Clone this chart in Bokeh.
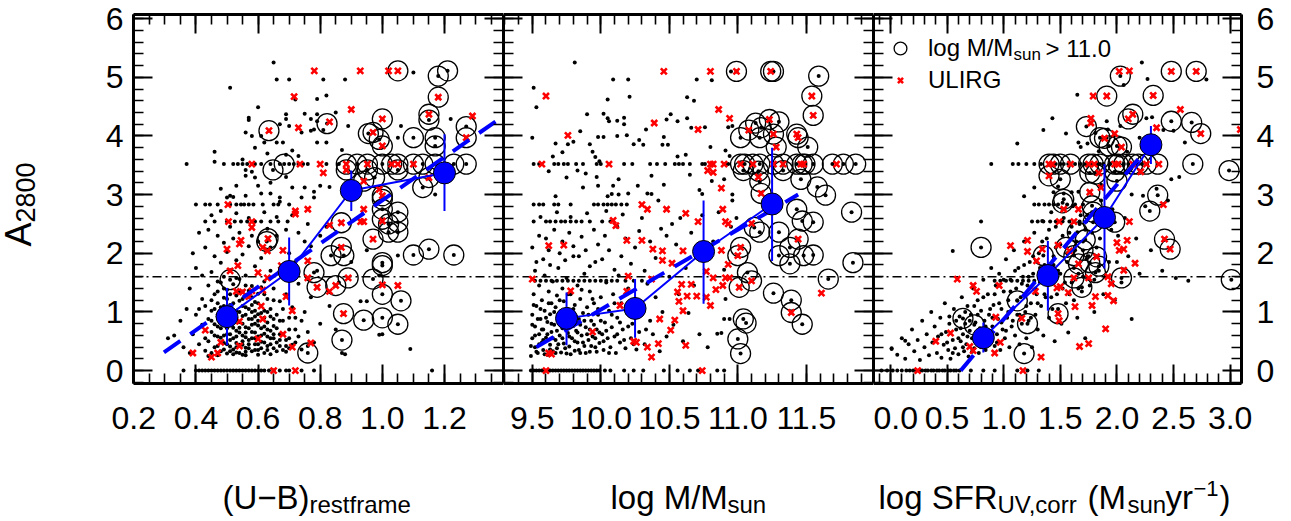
import math
from bokeh.plotting import figure
from bokeh.layouts import row, column
from bokeh.models import (Range1d, LinearAxis, SingleIntervalTicker, Span, Label,
                          Legend, LegendItem, CustomJSTickFormatter, PrintfTickFormatter)
from bokeh.embed import file_html
from bokeh.resources import INLINE

FONT = "Liberation Sans"

# ---------------- data: panel 1  (U-B)restframe vs A2800 ----------------
p1_dots = [
 [0.36,0],[0.40,0],[0.41,0],[0.42,0],[0.43,0],[0.44,0],[0.45,0],[0.46,0],[0.47,0],[0.48,0],
 [0.49,0],[0.50,0],[0.51,0],[0.52,0],[0.53,0],[0.54,0],[0.55,0],[0.56,0],[0.57,0],[0.58,0],
 [0.59,0],[0.60,0],[0.61,0],[0.62,0],[0.635,0],[0.65,0],[0.67,0],[0.69,0],[0.70,0],[0.74,0],[0.78,0],[1.16,0],
 [0.37,3.52],[0.49,3.52],[0.52,3.52],[0.535,3.52],[0.55,3.52],[0.565,3.52],[0.59,3.52],[0.61,3.52],[0.64,3.52],
 [0.67,3.52],[0.70,3.52],[0.715,3.52],[0.73,3.52],[0.745,3.52],[0.76,3.52],[0.82,3.52],[0.86,3.52],
 [0.40,2.83],[0.43,2.83],[0.445,2.83],[0.47,2.83],[0.51,2.83],[0.53,2.83],[0.545,2.83],[0.555,2.83],[0.57,2.83],
 [0.585,2.83],[0.615,2.83],[0.65,2.83],[0.665,2.83],[0.70,2.83],
 [0.43,2.54],[0.46,2.54],[0.50,2.54],[0.525,2.54],[0.545,2.54],[0.565,2.54],[0.59,2.54],[0.61,2.54],[0.64,2.54],
 [0.665,2.54],[0.695,2.54],
 [0.65,5.25],[0.51,4.82],[0.66,4.96],[0.70,4.96],[0.81,4.96],[0.88,4.96],[1.10,5.08],[0.72,4.62],[0.79,4.63],
 [0.82,4.69],[0.60,4.49],[0.57,4.31],[0.57,4.27],[0.69,4.37],[0.69,4.29],[0.75,4.38],[0.77,4.29],[0.79,4.37],
 [0.79,4.25],[0.89,4.17],[1.06,4.17],[1.22,4.29],[0.56,4.06],[0.58,4.00],[0.61,4.00],[0.62,3.89],[0.70,4.17],
 [0.74,4.06],[0.77,4.09],[0.78,4.11],[0.81,4.10],[0.79,3.89],[0.82,3.89],[0.66,3.89],[0.68,3.89],[0.71,3.75],
 [0.69,3.68],[0.73,3.66],[0.46,3.73],[0.46,3.56],[0.56,3.42],[0.58,3.39],[0.56,3.32],[0.59,3.29],[0.53,3.15],
 [0.60,3.15],[0.64,3.20],[0.69,3.30],[0.71,3.12],[0.75,3.12],[0.80,3.15],[0.83,3.13],[0.87,3.76],[1.05,3.97],
 [1.17,3.00],[0.51,2.98],[0.52,2.96],[0.61,3.02],[0.64,3.02],[0.67,2.95],[0.78,2.95],[0.48,3.10],[0.55,3.60],
 [0.63,3.70],[0.59,3.80],[0.67,4.20],[0.85,4.40],
 [0.39,0.62],[0.40,0.95],[0.41,1.05],[0.41,0.45],[0.42,0.78],[0.42,1.22],[0.43,0.34],[0.43,0.55],[0.43,1.10],
 [0.44,0.88],[0.44,1.45],[0.44,0.25],[0.45,0.66],[0.45,1.02],[0.45,1.68],[0.46,0.40],[0.46,0.79],[0.46,1.30],
 [0.46,1.95],[0.47,0.58],[0.47,0.92],[0.47,1.15],[0.47,1.52],[0.48,0.33],[0.48,0.72],[0.48,1.08],[0.48,1.84],
 [0.49,0.47],[0.49,0.86],[0.49,1.24],[0.49,1.60],[0.50,0.29],[0.50,0.62],[0.50,1.38],[0.50,2.02],[0.51,0.41],
 [0.51,0.78],[0.51,1.12],[0.51,1.71],[0.52,0.36],[0.52,0.55],[0.52,0.97],[0.52,1.47],[0.52,2.25],[0.53,0.31],
 [0.53,0.68],[0.53,1.02],[0.53,1.28],[0.53,1.88],[0.54,0.44],[0.54,0.83],[0.54,1.19],[0.54,1.56],[0.55,0.27],
 [0.55,0.60],[0.55,0.93],[0.55,1.35],[0.55,1.98],[0.56,0.39],[0.56,0.74],[0.56,1.08],[0.56,1.62],[0.57,0.52],
 [0.57,0.88],[0.57,1.26],[0.57,2.12],[0.58,0.33],[0.58,0.66],[0.58,1.00],[0.58,1.44],[0.59,0.45],[0.59,0.80],
 [0.59,1.17],[0.59,1.78],[0.60,0.35],[0.60,0.58],[0.60,0.96],[0.60,1.31],[0.61,0.49],[0.61,0.72],[0.61,1.10],
 [0.61,1.92],[0.62,0.30],[0.62,0.63],[0.62,0.90],[0.62,1.52],[0.63,0.42],[0.63,0.82],[0.63,1.22],[0.64,0.55],
 [0.64,1.05],[0.64,1.70],[0.65,0.38],[0.65,0.76],[0.65,1.40],[0.66,0.48],[0.66,0.95],[0.66,2.30],[0.67,0.62],
 [0.67,1.18],[0.68,0.35],[0.68,0.85],[0.68,1.60],[0.69,0.52],[0.69,1.30],[0.70,0.70],[0.70,2.00],[0.71,0.44],
 [0.71,1.08],[0.72,0.90],[0.72,1.85],[0.73,0.58],[0.73,1.48],[0.74,0.36],[0.75,1.00],[0.75,2.20],[0.76,0.66],
 [0.77,1.25],[0.78,0.48],[0.79,1.70],[0.80,0.80],[0.82,2.45],[0.83,1.10],[0.85,0.70],[0.86,1.50],[0.88,0.28],
 [0.90,1.85],[0.93,1.18],[0.95,2.05],[1.00,0.62],[1.05,1.96],[1.09,0.37],[0.99,1.62],[0.33,0.60],[0.31,0.55],
 [0.35,0.85],[0.36,0.40],[0.37,1.05],[0.38,0.30],[0.38,1.40],[0.39,2.00],[0.40,1.75],[0.41,2.35],[0.42,1.62],
 [0.43,2.10],[0.44,2.40],[0.45,2.65],[0.47,2.30],[0.48,2.72],[0.49,2.18],[0.50,2.95],[0.51,2.45],[0.53,2.68],
 [0.54,2.35],[0.56,2.98],[0.57,2.60],[0.58,2.30],[0.60,2.20],[0.62,2.70],[0.63,2.42],[0.64,2.10],[0.66,2.62],
 [0.67,2.88],[0.69,2.40],[0.71,2.65],[0.73,2.35],[0.74,2.95],[0.76,2.50],[0.77,2.12],[0.78,3.05],[0.80,2.30],
 [0.47,0.42],[0.49,0.36],[0.51,0.52],[0.53,0.47],[0.55,0.44],[0.57,0.38],[0.59,0.55],[0.48,0.56],[0.50,0.84],
 [0.52,0.73],[0.54,0.65],[0.56,0.57],[0.58,0.88],[0.60,0.77],[0.46,1.05],[0.50,1.05],[0.54,1.00],[0.58,1.12],
 [0.62,1.02],[0.49,1.40],[0.53,1.58],[0.57,1.36],[0.61,1.42],[0.51,0.93],[0.55,1.22],[0.59,1.02],[0.63,0.70],
 [0.65,0.55],[0.67,0.42],[0.69,0.32],[0.45,0.30],[0.47,0.26],[0.52,0.28],[0.56,0.26],[0.60,0.27],[0.64,0.28],
 [0.66,0.33],[0.70,0.38],[0.95,1.18],[0.87,0.30],[0.99,0.61],
 [0.44,0.50],[0.45,0.85],[0.45,1.20],[0.46,0.60],[0.47,0.75],[0.47,1.35],[0.48,0.95],[0.48,1.50],[0.49,0.60],
 [0.49,1.10],[0.50,0.45],[0.50,0.72],[0.50,1.22],[0.51,0.33],[0.51,0.62],[0.51,1.30],[0.52,0.85],[0.52,1.15],
 [0.53,0.40],[0.53,0.58],[0.53,0.90],[0.54,0.30],[0.54,0.73],[0.54,1.35],[0.55,0.50],[0.55,0.80],[0.55,1.10],
 [0.56,0.32],[0.56,0.65],[0.56,0.95],[0.56,1.45],[0.57,0.45],[0.57,0.72],[0.57,1.05],[0.58,0.55],[0.58,0.78],
 [0.58,1.25],[0.59,0.35],[0.59,0.65],[0.59,0.92],[0.60,0.45],[0.60,0.85],[0.60,1.15],[0.61,0.38],[0.61,0.60],
 [0.61,0.98],[0.62,0.48],[0.62,0.75],[0.62,1.30],[0.63,0.35],[0.63,0.58],[0.63,1.00],[0.64,0.45],[0.64,0.68],
 [0.64,0.92],[0.65,0.62],[0.65,0.88],[0.65,1.20],[0.66,0.72],[0.67,0.52],[0.67,0.85],[0.68,0.62],[0.68,1.05],
 [0.69,0.42],[0.70,0.55],[0.70,0.90],[0.72,0.48],[0.72,0.70],[0.74,0.85],[0.76,0.42],
]
p1_circles = [
 [0.635,4.09],[0.684,3.52],[0.648,3.42],[0.822,4.21],[0.884,3.52],[0.884,3.42],[0.919,3.52],[0.952,3.52],
 [0.952,3.42],[0.955,4.04],[0.97,4.06],[0.99,3.94],[1.0,3.83],[1.0,4.29],[0.975,3.29],[0.94,3.23],[1.0,3.52],
 [1.03,3.52],[1.05,3.52],[1.05,3.42],[1.05,5.11],[1.10,3.97],[1.10,3.52],[1.13,3.52],[1.13,3.12],[1.15,3.29],
 [1.15,4.27],[1.15,4.37],[1.17,3.97],[1.17,3.83],[1.17,3.52],[1.18,5.02],[1.18,4.66],[1.21,5.11],[1.23,3.52],
 [1.27,3.52],[1.27,4.16],[1.27,3.97],[1.0,2.98],[0.632,2.25],[0.628,2.20],[0.868,2.52],[1.0,2.92],[1.0,2.75],
 [1.0,2.58],[1.02,2.50],[1.02,2.36],[1.05,2.70],[1.05,2.53],[1.05,2.36],[0.97,2.24],[0.868,2.10],[0.835,1.96],
 [0.876,1.96],[1.0,1.84],[1.0,1.79],[1.10,1.97],[1.15,2.07],[1.23,1.97],[0.78,1.67],[0.79,1.42],[0.85,1.45],
 [0.89,1.58],[0.97,1.56],[1.0,1.30],[1.06,1.19],[0.875,0.97],[0.94,0.86],[1.0,0.90],[1.05,0.79],[0.87,0.52],
 [0.76,0.30],[0.51,1.55],
]
p1_ulirg = [
 [0.635,4.09],[0.83,4.24],[0.884,3.52],[0.884,3.42],[0.952,3.52],[0.97,4.06],[1.0,3.83],[1.0,4.29],[0.94,3.23],
 [1.03,3.52],[1.05,3.52],[1.05,5.11],[1.10,3.52],[1.15,3.29],[1.15,4.37],[1.18,4.66],[1.27,3.97],[1.0,2.98],
 [0.632,2.25],[0.868,2.52],[1.0,2.55],[0.97,2.24],[0.868,2.10],[0.79,1.42],[0.85,1.45],[0.89,1.58],[0.875,0.97],
 [0.781,5.11],[0.929,5.11],[1.02,5.11],[0.716,4.67],[0.90,4.45],[0.73,4.14],[0.58,3.52],[0.735,3.52],[0.80,3.52],
 [0.81,3.37],[1.29,4.34],[0.99,3.09],[0.503,2.83],[0.505,2.54],[0.58,2.54],[0.58,2.44],[0.545,2.22],[0.54,2.16],
 [0.50,2.07],[0.615,2.10],[0.63,2.04],[0.72,2.72],[0.72,2.67],[0.76,2.75],[0.68,2.05],[0.76,1.87],[0.675,1.79],
 [0.76,1.58],[0.51,1.70],[0.535,1.79],[0.60,1.67],[0.63,1.58],[0.53,1.35],[0.55,1.34],[0.57,1.26],[0.58,1.36],
 [0.615,1.37],[0.61,1.10],[0.69,1.26],[0.71,1.02],[0.615,0.88],[0.54,0.84],[0.43,0.69],[0.60,0.54],[0.68,0.62],
 [0.77,0.47],[0.71,0.40],[0.54,0.42],[0.48,0.48],[0.47,0.30],[0.45,0.23],[0.39,0.30],[0.65,0.0],[0.72,0.0],
 [0.94,2.75],[0.93,2.54],[0.94,2.54],[1.0,1.46],[1.05,1.45],[0.83,1.35],[0.83,2.48],
]
p1_bin_x = [0.5, 0.7, 0.9, 1.2]
p1_bin_med = [0.92, 1.69, 3.07, 3.37]
p1_bin_lo = [0.43, 1.11, 2.72, 2.72]
p1_bin_hi = [1.41, 2.27, 3.41, 4.03]
p1_fit_x = [0.297, 1.39]
p1_fit_y = [0.31, 4.34]

# ---------------- data: panel 2  log M/Msun vs A2800 ----------------
p2_dots = [
 [9.49,0],[9.51,0],[9.53,0],[9.55,0],[9.57,0],[9.59,0],[9.61,0],[9.63,0],[9.65,0],[9.67,0],[9.69,0],[9.71,0],
 [9.73,0],[9.75,0],[9.77,0],[9.79,0],[9.81,0],[9.83,0],[9.85,0],[9.87,0],[9.89,0],[9.91,0],[9.93,0],[9.95,0],
 [9.97,0],[9.99,0],[10.03,0],[10.07,0],[10.17,0],[10.24,0],[10.31,0],[10.46,0],[10.56,0],[10.65,0],[10.71,0],
 [10.85,0],[10.90,0],
 [9.51,3.52],[9.55,3.52],[9.66,3.52],[9.69,3.52],[9.73,3.52],[9.76,3.52],[9.82,3.52],[9.87,3.52],[9.97,3.52],
 [10.0,3.52],[10.17,3.52],[10.23,3.52],[10.36,3.52],[10.41,3.52],[10.47,3.52],[10.54,3.52],[10.57,3.52],
 [10.60,3.52],[10.65,3.52],[10.74,3.52],[10.76,3.52],[10.81,3.52],[10.91,3.52],[10.93,3.52],
 [9.51,2.83],[9.55,2.83],[9.58,2.83],[9.66,2.83],[9.69,2.83],[9.78,2.83],[9.95,2.83],[9.98,2.83],[10.02,2.83],
 [10.05,2.83],[10.08,2.83],[10.11,2.83],[10.15,2.83],[10.19,2.83],
 [9.51,2.54],[9.60,2.54],[9.63,2.54],[9.67,2.54],[9.71,2.54],[9.74,2.54],[9.78,2.54],[9.82,2.54],[9.86,2.54],
 [9.92,2.54],[10.01,2.54],[10.07,2.54],
 [9.52,1.53],[9.56,1.53],[9.60,1.53],[9.64,1.53],[9.68,1.53],[9.72,1.53],[9.76,1.53],[9.80,1.53],[9.84,1.53],
 [9.88,1.53],[9.92,1.53],[9.96,1.53],[10.00,1.53],[10.04,1.53],[10.08,1.53],[10.12,1.53],[10.18,1.53],
 [10.24,1.53],[10.30,1.53],
 [9.81,5.25],[9.51,4.82],[10.09,4.96],[10.20,4.96],[10.70,4.96],[10.81,4.95],[10.95,5.10],[10.21,4.67],
 [10.05,4.62],[10.63,4.66],[10.68,4.60],[9.53,4.49],[9.90,4.37],[10.02,4.38],[10.05,4.30],[10.06,4.25],
 [10.12,4.26],[10.17,4.31],[10.17,4.20],[10.33,4.11],[10.51,4.37],[10.48,4.28],[10.56,4.25],[10.63,4.30],
 [10.66,4.14],[10.76,4.15],[10.93,4.15],[10.96,4.17],[9.50,3.97],[9.67,3.87],[9.76,3.86],[9.80,3.90],
 [9.85,4.08],[9.98,3.98],[10.02,3.98],[9.92,3.86],[9.94,3.73],[9.72,3.72],[9.65,3.65],[9.96,3.64],[9.99,3.57],
 [10.12,4.00],[10.19,4.01],[10.24,3.86],[10.31,3.85],[10.28,3.93],[10.46,3.98],[10.45,3.85],[10.49,3.85],
 [10.56,3.65],[10.62,3.68],[10.80,3.81],[10.91,3.75],[10.94,3.66],
 [9.62,3.40],[9.83,3.41],[9.89,3.36],[9.97,3.30],[9.75,3.29],[10.09,3.15],[9.98,3.15],[10.13,3.26],[10.27,3.15],
 [10.37,3.32],[10.46,3.17],[10.65,3.34],[10.72,3.08],[10.74,3.01],[10.81,3.23],[10.90,3.26],[10.96,3.00],
 [9.87,3.12],[10.05,2.97],[10.08,3.01],[10.13,3.00],[10.20,3.02],[10.34,3.02],[10.37,3.01],[9.67,2.97],
 [9.49,0.25],[9.50,0.55],[9.50,0.95],[9.51,1.30],[9.52,0.40],[9.52,0.75],[9.53,1.10],[9.53,1.85],[9.54,0.30],
 [9.55,0.62],[9.55,1.45],[9.56,0.88],[9.57,0.48],[9.57,1.20],[9.58,0.35],[9.58,0.70],[9.59,1.02],[9.59,1.62],
 [9.60,0.56],[9.61,0.27],[9.61,0.83],[9.62,1.35],[9.62,2.05],[9.63,0.44],[9.63,0.96],[9.64,0.66],[9.64,1.15],
 [9.65,0.33],[9.65,1.52],[9.66,0.78],[9.67,0.52],[9.67,1.08],[9.68,0.38],[9.68,1.28],[9.69,0.90],[9.69,1.75],
 [9.70,0.60],[9.71,0.31],[9.71,1.00],[9.72,0.72],[9.72,1.40],[9.73,0.46],[9.73,1.18],[9.74,0.85],[9.75,0.29],
 [9.75,1.58],[9.76,0.64],[9.76,1.05],[9.77,0.41],[9.78,0.93],[9.78,1.30],[9.79,0.55],[9.80,0.76],[9.80,1.95],
 [9.81,0.34],[9.81,1.12],[9.82,0.68],[9.83,0.48],[9.83,1.45],[9.84,0.88],[9.85,0.30],[9.85,1.22],[9.86,0.60],
 [9.87,0.98],[9.88,0.42],[9.88,1.65],[9.89,0.74],[9.90,1.08],[9.91,0.52],[9.92,0.32],[9.92,1.35],[9.93,0.85],
 [9.94,0.58],[9.95,1.15],[9.96,0.40],[9.96,1.85],[9.97,0.70],[9.98,0.95],[9.99,0.47],[10.00,1.25],[10.01,0.62],
 [10.02,0.35],[10.03,0.82],[10.04,1.50],[10.05,0.55],[10.06,1.02],[10.07,0.40],[10.08,0.74],[10.09,1.30],
 [10.10,0.58],[10.11,0.30],[10.12,0.90],[10.13,1.62],[10.14,0.48],[10.15,1.15],[10.16,0.70],[10.18,0.38],
 [10.19,0.98],[10.20,1.40],[10.22,0.55],[10.23,0.80],[10.25,1.20],[10.26,0.36],[10.28,0.66],[10.30,1.05],
 [10.32,0.45],[10.34,1.48],[10.36,0.85],[10.38,0.62],[10.40,1.25],[10.43,0.33],[10.45,1.00],[10.48,0.58],
 [10.50,1.60],[10.53,0.78],[10.57,1.30],[10.60,0.50],[10.64,0.98],[10.68,1.45],[10.72,0.62],[10.78,0.40],
 [10.85,0.63],[10.88,0.64],[10.91,1.22],[10.90,0.88],[10.94,0.88],
 [9.50,2.10],[9.52,1.70],[9.55,2.30],[9.58,1.90],[9.60,2.25],[9.63,1.80],[9.66,2.40],[9.70,2.00],[9.72,2.20],
 [9.74,1.88],[9.77,2.35],[9.80,2.12],[9.84,1.95],[9.86,2.28],[9.89,2.05],[9.92,1.78],[9.95,2.40],[9.98,2.15],
 [10.01,1.90],[10.03,2.30],[10.06,2.05],[10.10,1.72],[10.12,2.45],[10.15,1.95],[10.18,2.25],[10.22,1.82],
 [10.25,2.10],[10.28,2.38],[10.32,1.70],[10.36,2.20],[10.40,1.92],[10.44,2.42],[10.48,2.30],[10.55,2.15],
 [10.58,2.60],[10.62,1.75],[10.66,2.35],[10.70,1.95],[10.74,2.65],[10.82,2.20],[10.86,2.70],[10.90,1.72],
 [10.95,2.45],[10.96,2.90],[10.99,2.60],[9.56,2.62],[9.68,2.70],[9.78,2.62],[9.90,2.68],[10.04,2.72],
 [10.16,2.66],[10.30,2.60],[10.42,2.90],[10.52,2.50],
 [9.49,0.42],[9.50,0.78],[9.51,1.12],[9.52,0.60],[9.53,0.32],[9.54,0.88],[9.55,0.45],[9.56,1.05],[9.57,0.70],
 [9.58,0.52],[9.59,0.28],[9.60,0.90],[9.61,0.62],[9.62,1.15],[9.63,0.36],[9.64,0.80],[9.65,0.55],[9.66,1.00],
 [9.67,0.30],[9.68,0.68],[9.69,0.45],[9.70,1.20],[9.71,0.82],[9.72,0.55],[9.73,0.95],[9.74,0.38],[9.75,0.72],
 [9.76,1.30],[9.77,0.58],[9.78,0.28],[9.79,0.85],[9.80,1.05],[9.81,0.50],[9.82,0.92],[9.83,0.65],[9.84,0.35],
 [9.85,0.78],[9.86,1.38],[9.87,0.48],[9.88,0.85],[9.89,0.30],[9.90,0.62],[9.91,0.95],[9.92,0.70],[9.93,0.42],
 [9.94,1.22],[9.95,0.78],[9.96,0.55],[9.97,0.32],[9.98,1.05],[9.99,0.65],[10.00,0.85],[10.02,0.50],[10.04,0.68],
 [10.06,0.30],[10.08,0.95],[10.10,1.15],[10.12,0.62],[10.14,0.82],[10.17,0.52],[10.20,0.75],[10.24,0.45],
 [10.27,0.92],[10.33,0.70],
]
p2_circles = [
 [10.99,5.10],[11.24,5.10],[11.26,5.10],[11.59,5.02],[11.54,4.68],[11.55,4.35],[11.13,4.22],[11.23,4.28],
 [11.30,4.24],[11.08,4.10],[11.17,4.14],[11.02,3.97],[11.16,3.97],[11.26,4.03],[11.28,3.81],[11.43,4.03],
 [11.44,3.97],[11.51,3.81],[11.02,3.52],[11.05,3.52],[11.11,3.52],[11.16,3.52],[11.26,3.52],[11.33,3.52],
 [11.43,3.52],[11.47,3.52],[11.49,3.52],[11.55,3.52],[11.69,3.52],[11.77,3.52],[11.86,3.52],[11.04,3.41],
 [11.15,3.40],[11.33,3.41],[11.46,3.26],[11.58,3.13],[11.64,2.99],[11.17,3.02],[11.16,3.22],[11.43,2.75],
 [11.47,2.55],[11.55,2.53],[11.83,2.70],[11.16,2.36],[11.12,2.44],[11.30,2.36],[11.38,2.10],[11.30,1.96],
 [11.38,1.82],[11.48,1.96],[11.55,1.97],[11.44,2.24],[11.02,2.10],[11.0,1.96],[11.84,1.84],[11.07,1.67],
 [11.10,1.53],[11.01,1.42],[11.66,1.56],[11.26,1.32],[11.39,1.20],[11.39,0.99],[11.47,0.79],[11.04,0.88],
 [11.06,0.81],[11.0,0.54],[11.02,0.29],
]
p2_ulirg = [
 [10.99,5.10],[11.24,5.10],[11.54,4.68],[11.55,4.35],[11.23,4.28],[11.08,4.10],[11.26,4.03],[11.28,3.81],
 [11.43,4.03],[11.44,3.97],[11.02,3.52],[11.11,3.52],[11.26,3.52],[11.33,3.52],[11.46,3.52],[11.48,3.52],
 [11.72,3.52],[11.15,3.30],[11.17,3.02],[11.10,2.51],[11.44,2.24],[11.02,2.10],[11.0,1.96],[11.10,1.53],
 [11.01,1.42],[11.39,0.99],[11.61,1.32],
 [10.46,5.10],[10.80,5.10],[9.60,4.68],[10.86,4.45],[10.94,4.30],[10.39,4.22],[10.71,4.11],[9.76,4.01],
 [9.57,3.52],[10.06,3.52],[10.80,3.52],[10.82,3.52],[10.90,3.52],[10.78,3.41],[10.82,3.38],[10.88,3.11],
 [10.30,2.83],[10.34,2.75],[10.48,2.75],[10.62,2.68],[10.71,2.54],[10.89,2.75],[10.91,2.54],[10.93,2.50],
 [10.09,2.56],[10.11,2.47],[10.19,2.22],[10.30,2.22],[10.38,2.07],[10.45,2.04],[10.45,1.88],[10.60,2.04],
 [10.52,1.83],[10.88,2.05],[10.93,1.81],[10.77,1.69],[10.82,1.58],[10.91,1.58],[10.94,1.58],[10.89,1.45],
 [10.84,1.38],[10.66,1.47],[10.59,1.47],[10.70,1.27],[10.77,1.25],[10.63,1.27],[10.56,1.34],[10.57,1.18],
 [10.80,1.11],[10.60,1.02],[10.54,0.86],[10.43,0.88],[10.51,0.69],[10.24,0.50],[10.26,0.48],[10.34,0.40],
 [10.42,0.46],[10.37,0.23],[10.62,0.43],[10.20,1.61],[10.37,1.56],[10.19,1.35],[10.14,1.11],[9.94,0.66],
 [9.78,1.36],[9.62,2.13],[9.73,2.14],[9.50,1.56],[9.60,0.0],[10.74,0.0],[9.62,0.30],[9.64,0.28],
]
p2_bin_x = [9.75, 10.25, 10.75, 11.25]
p2_bin_med = [0.89, 1.06, 2.03, 2.84]
p2_bin_lo = [0.43, 0.56, 1.14, 1.87]
p2_bin_hi = [1.33, 1.56, 2.90, 3.80]
p2_fit_x = [9.53, 11.44]
p2_fit_y = [0.40, 3.00]

# ---------------- data: panel 3  log SFR_UV,corr vs A2800 ----------------
p3_dots = [
 [-0.08,0],[-0.03,0],[0.02,0],[0.06,0],[0.10,0],[0.14,0],[0.17,0],[0.20,0],[0.23,0],[0.26,0],[0.28,0],[0.31,0],
 [0.33,0],[0.36,0],[0.38,0],[0.41,0],[0.43,0],[0.46,0],[0.48,0],[0.51,0],[0.53,0],[0.56,0],[0.58,0],[0.61,0],
 [0.71,0],[0.82,0],[0.92,0],[1.12,0],[1.21,0],[1.31,0],
 [0.89,3.52],[1.08,3.52],[1.13,3.52],[1.20,3.52],[1.27,3.52],[1.33,3.52],[1.46,3.52],[1.53,3.52],[1.57,3.52],
 [1.63,3.52],[1.68,3.52],[1.72,3.52],[1.82,3.52],[1.88,3.52],[1.94,3.52],[2.10,3.52],[2.22,3.52],
 [1.27,2.83],[1.31,2.83],[1.36,2.83],[1.40,2.83],[1.44,2.83],[1.48,2.83],[1.56,2.83],[1.63,2.83],[1.70,2.83],
 [1.25,2.54],[1.30,2.54],[1.35,2.54],[1.41,2.54],[1.46,2.54],[1.52,2.54],[1.58,2.54],[1.67,2.54],[1.73,2.54],
 [0.92,1.53],[0.97,1.53],[1.02,1.53],[1.07,1.53],[1.12,1.53],[1.17,1.53],[1.22,1.53],[1.27,1.53],[1.32,1.53],
 [2.22,5.25],[2.27,4.97],[2.06,4.87],[2.79,4.96],[1.65,4.70],[1.43,4.30],[1.35,4.10],[1.55,4.04],[1.12,3.87],
 [1.66,3.89],[1.74,3.87],[1.68,3.81],[1.91,4.25],[1.92,4.11],[2.03,4.17],[2.26,4.30],[2.31,4.32],[2.41,4.10],
 [2.50,4.09],[2.60,3.89],[1.84,3.74],[1.81,4.05],[2.22,3.82],[2.48,3.26],[2.23,2.98],[1.86,3.17],[1.60,3.04],
 [1.66,3.05],[1.53,3.02],[1.44,3.04],[1.48,3.14],[1.27,3.12],[1.18,2.97],[1.91,3.97],[2.09,3.73],[2.20,3.97],
 [0.55,2.04],[0.80,2.54],[0.13,0.51],[0.01,0.37],[2.13,0.88],[2.63,1.53],[2.52,1.58],
 [0.01,0.38],[0.06,0.27],[0.10,0.55],[0.13,0.20],[0.16,0.45],[0.19,0.70],[0.21,0.33],[0.24,0.52],[0.26,0.18],
 [0.28,0.85],[0.30,0.40],[0.32,0.62],[0.34,0.26],[0.36,1.00],[0.37,0.48],[0.39,0.75],[0.41,0.30],[0.42,0.58],
 [0.44,0.90],[0.45,0.22],[0.47,0.44],[0.48,1.15],[0.49,0.66],[0.51,0.35],[0.52,0.80],[0.53,0.20],[0.55,0.52],
 [0.56,1.05],[0.57,0.38],[0.58,0.70],[0.60,0.28],[0.61,0.92],[0.62,0.50],[0.63,1.25],[0.64,0.62],[0.65,0.33],
 [0.66,0.80],[0.67,0.45],[0.68,1.10],[0.69,0.24],[0.70,0.68],[0.71,0.95],[0.72,0.55],[0.73,1.40],[0.74,0.38],
 [0.75,0.82],[0.76,0.60],[0.77,1.20],[0.78,0.30],[0.79,0.72],[0.80,1.02],[0.81,0.48],[0.82,1.55],[0.83,0.85],
 [0.84,0.35],[0.85,0.65],[0.86,1.30],[0.87,0.95],[0.88,0.50],[0.89,1.75],[0.90,0.75],[0.91,1.12],[0.92,0.42],
 [0.93,1.45],[0.94,0.62],[0.95,0.88],[0.96,1.65],[0.97,0.35],[0.98,1.05],[0.99,0.70],[1.00,1.35],[1.01,0.55],
 [1.02,1.90],[1.03,0.90],[1.04,1.20],[1.05,0.40],[1.06,1.55],[1.07,0.75],[1.08,1.05],[1.09,2.05],[1.10,0.60],
 [1.11,1.40],[1.12,0.95],[1.13,1.75],[1.14,0.45],[1.15,1.25],[1.16,0.80],[1.17,1.60],[1.18,2.20],[1.19,1.00],
 [1.20,0.55],[1.21,1.45],[1.22,0.85],[1.23,1.85],[1.24,1.15],[1.25,0.40],[1.26,1.65],[1.27,2.35],[1.28,0.95],
 [1.29,1.30],[1.30,0.70],[1.31,2.00],[1.32,1.50],[1.33,1.10],[1.34,2.55],[1.35,0.60],[1.36,1.80],[1.37,1.25],
 [1.38,2.25],[1.40,0.90],[1.41,1.55],[1.42,2.70],[1.43,1.05],[1.44,1.95],[1.45,0.50],[1.46,2.45],[1.47,1.30],
 [1.48,1.70],[1.50,2.15],[1.51,0.80],[1.52,1.40],[1.53,2.60],[1.55,1.15],[1.56,1.85],[1.57,0.65],[1.58,2.35],
 [1.60,1.50],[1.61,2.80],[1.62,1.20],[1.63,2.05],[1.65,0.90],[1.66,1.65],[1.67,2.50],[1.69,1.35],[1.70,2.20],
 [1.72,0.55],[1.73,1.90],[1.74,2.65],[1.76,1.45],[1.78,2.35],[1.80,1.00],[1.82,2.10],[1.84,1.70],[1.86,2.90],
 [1.88,1.30],[1.90,2.45],[1.93,1.85],[1.96,2.75],[1.98,1.20],[2.01,2.30],[2.04,1.50],[2.07,2.60],[2.10,1.95],
 [2.13,3.00],[2.17,2.25],[2.20,1.65],[2.25,2.80],[2.30,2.05],[2.35,3.10],[2.40,1.70],[2.45,2.90],[2.55,3.30],
 [0.45,0.62],[0.50,0.48],[0.52,0.92],[0.55,0.30],[0.58,0.85],[0.60,0.55],[0.62,0.72],[0.64,0.40],[0.66,1.00],
 [0.68,0.58],[0.70,0.85],[0.72,0.32],[0.74,1.10],[0.75,0.50],[0.77,0.95],[0.78,0.65],[0.80,0.40],[0.82,1.25],
 [0.84,0.75],[0.86,0.52],[0.88,1.05],[0.90,0.90],[0.92,1.30],[0.94,0.48],[0.96,1.15],[0.98,0.82],[1.00,1.55],
 [1.02,0.68],[1.04,1.00],[1.06,1.35],[1.08,0.85],[1.10,1.70],[1.12,1.20],[1.14,0.95],[1.16,1.48],[1.18,1.80],
 [1.20,1.10],[1.22,1.60],[1.24,0.90],[1.26,1.95],[1.28,1.40],[1.30,1.15],[1.32,1.75],[1.34,2.20],[1.36,1.30],
 [1.38,1.62],[1.40,2.40],[1.42,1.25],[1.44,1.80],[1.46,2.10],[1.48,1.05],[1.50,1.65],[1.52,2.30],[1.54,1.50],
 [1.56,2.00],[1.58,1.30],[1.60,2.45],[1.62,1.75],[1.64,2.20],[1.66,1.40],[1.68,2.65],[1.70,1.60],[1.72,2.40],
 [1.75,1.95],[1.78,2.70],[1.80,1.55],[1.85,2.25],[1.90,1.60],[1.95,2.40],[2.00,1.85],
]
p3_circles = [
 [2.03,5.02],[2.48,5.10],[2.70,5.10],[1.91,4.68],[2.32,4.69],[1.73,4.16],[2.10,4.29],[2.14,4.37],[2.48,4.25],
 [2.66,4.23],[2.74,4.04],[1.85,3.97],[1.89,3.96],[1.93,3.83],[2.00,3.83],[2.04,3.81],[1.40,3.52],[1.44,3.52],
 [1.50,3.52],[1.59,3.52],[1.75,3.52],[1.79,3.52],[1.85,3.52],[1.98,3.52],[2.01,3.52],[2.06,3.52],[2.14,3.52],
 [2.19,3.52],[2.26,3.52],[2.36,3.52],[2.67,3.52],[2.99,3.41],[1.40,3.32],[1.50,3.26],[1.76,3.37],[1.81,3.35],
 [1.98,3.39],[2.00,3.23],[2.36,2.99],[1.53,2.92],[1.76,3.04],[2.29,2.72],[1.52,2.86],[1.78,2.81],[1.79,2.70],
 [1.79,2.53],[1.98,2.53],[1.65,2.36],[1.72,2.23],[1.62,1.96],[1.66,1.82],[1.82,1.94],[1.76,1.84],[1.81,1.67],
 [1.69,1.42],[1.62,1.58],[2.04,1.58],[2.42,2.24],[2.47,2.07],[1.35,1.96],[0.80,2.10],[1.12,1.19],[1.48,0.97],
 [1.21,0.80],[1.18,0.29],[0.64,0.89],[0.74,0.78],[3.01,1.55],[1.84,1.78],[1.70,2.05],[1.55,2.10],
]
p3_ulirg = [
 [2.48,5.10],[2.70,5.10],[1.91,4.68],[2.32,4.69],[2.10,4.29],[2.14,4.37],[2.74,4.04],[1.89,3.96],[2.04,3.81],
 [1.40,3.52],[1.43,3.52],[1.59,3.52],[1.75,3.52],[1.80,3.52],[1.98,3.52],[2.01,3.52],[2.14,3.52],[2.26,3.52],
 [2.37,3.52],[1.40,3.32],[1.76,3.04],[1.66,1.82],[1.82,1.94],[1.62,1.58],[2.42,2.24],[2.47,2.07],[1.48,0.97],
 [2.02,5.10],[2.11,5.11],[1.79,4.68],[2.56,4.45],[1.77,4.30],[1.77,4.22],[1.98,4.04],[2.35,4.14],[3.09,4.11],
 [1.84,3.37],[2.21,3.39],[1.86,3.12],[1.53,2.75],[1.66,2.75],[1.62,2.54],[1.49,2.54],[2.11,2.54],[2.41,2.83],
 [1.06,2.13],[1.21,2.22],[1.21,2.03],[1.34,2.07],[1.29,1.87],[1.48,2.14],[1.58,2.04],[2.00,2.18],[2.09,2.22],
 [2.02,2.05],[2.06,2.07],[2.16,1.83],[2.06,1.71],[0.59,1.56],[0.73,1.45],[0.76,1.35],[0.96,1.45],[1.28,1.35],
 [1.47,1.41],[1.50,1.43],[1.57,1.33],[1.75,1.58],[1.92,1.60],[1.95,1.48],[1.81,1.26],[1.92,1.28],[1.97,1.19],
 [1.78,1.11],[1.63,1.09],[1.49,0.85],[0.93,0.91],[1.16,0.89],[0.53,0.64],[0.40,0.50],[0.97,0.48],[0.70,0.41],
 [0.73,0.34],[0.92,0.30],[1.33,0.23],[1.67,0.41],[1.75,0.46],[1.90,0.71],[0.24,0.0],[1.17,0.0],
]
p3_bin_x = [0.82, 1.39, 1.89, 2.30]
p3_bin_med = [0.56, 1.62, 2.61, 3.85]
p3_bin_lo = [0.31, 1.02, 1.74, 3.52]
p3_bin_hi = [0.82, 2.21, 3.52, 4.17]
p3_fit_x = [0.62, 2.23]
p3_fit_y = [0.00, 3.70]

a_threshold = 1.6
y_ticks_step = 1

# ---------------- figure construction ----------------
y_range = Range1d(-0.22, 6.07)
FRAME_H = 369
TOP, BOTTOM = 14, 90
YSTRIP_W = 45
PANEL_H = TOP + FRAME_H + BOTTOM
XSTRIP_H = 521 - PANEL_H
BASE_SHIFT = 0.35   # the renderer places the text baseline this many ems below the anchor


def style_axis(ax, interval, nminor, labels, standoff=0, fmt=None):
    ax.ticker = SingleIntervalTicker(interval=interval, num_minor_ticks=nminor)
    ax.axis_line_width = 3
    ax.axis_line_color = "black"
    ax.major_tick_in = 19
    ax.major_tick_out = 0
    ax.minor_tick_in = 10
    ax.minor_tick_out = 0
    ax.major_tick_line_width = 2
    ax.minor_tick_line_width = 1.6
    ax.major_tick_line_color = "black"
    ax.minor_tick_line_color = "black"
    ax.axis_label = None
    if labels:
        if fmt is not None:
            ax.formatter = PrintfTickFormatter(format=fmt)
        ax.major_label_text_font = FONT
        ax.major_label_text_font_size = "32px"
        ax.major_label_text_color = "black"
        ax.major_label_standoff = standoff
    else:
        ax.formatter = CustomJSTickFormatter(code="return ''")
        ax.major_label_text_font_size = "0px"
        ax.major_label_standoff = 0


def make_panel(xr, xint, xminor, fw, bl, br, left_lab, right_lab):
    p = figure(x_range=Range1d(*xr), y_range=y_range, frame_width=fw, frame_height=FRAME_H,
               min_border_left=bl, min_border_right=br, min_border_top=TOP, min_border_bottom=BOTTOM,
               output_backend="svg", toolbar_location=None, title=None,
               x_axis_location=None, y_axis_location=None)
    p.grid.visible = False
    p.outline_line_color = None
    p.background_fill_color = "white"
    p.border_fill_color = "white"
    b = LinearAxis(); style_axis(b, xint, xminor, True, 23, "%.1f"); p.add_layout(b, "below")
    t = LinearAxis(); style_axis(t, xint, xminor, False); p.add_layout(t, "above")
    l = LinearAxis(); style_axis(l, y_ticks_step, 5, left_lab, 10); p.add_layout(l, "left")
    r = LinearAxis(); style_axis(r, y_ticks_step, 5, right_lab, 15); p.add_layout(r, "right")
    return p


def make_strip(w, h):
    s = figure(x_range=Range1d(0, 1), y_range=Range1d(0, 1), frame_width=w, frame_height=h,
               min_border=0, output_backend="svg", toolbar_location=None, title=None,
               x_axis_location=None, y_axis_location=None)
    s.grid.visible = False
    s.outline_line_color = None
    s.background_fill_color = "white"
    s.border_fill_color = "white"
    return s


def draw(p, dots, circles, ulirg, bx, bm, blo, bhi, fx, fy):
    sp = Span(location=a_threshold, dimension="width", line_color="black", line_width=1.5,
              line_dash="9 4 2 4", level="underlay")
    p.add_layout(sp)
    p.scatter([d[0] for d in dots], [d[1] for d in dots], marker="circle", size=4.0,
              fill_color="black", line_color=None)
    cx = [c[0] for c in circles]
    cy = [c[1] for c in circles]
    p.scatter(cx, cy, marker="circle", size=4.0, fill_color="black", line_color=None)
    cr = p.scatter(cx, cy, marker="circle", size=20, fill_color=None, line_color="black", line_width=1.3)
    ur = p.scatter([u[0] for u in ulirg], [u[1] for u in ulirg], marker="x", size=8.5,
                   line_color="#ff0000", line_width=2.6)
    p.line(fx, fy, line_color="#0000ff", line_width=4, line_dash="20 12")
    p.line(bx, bm, line_color="#0000ff", line_width=2)
    p.segment(bx, blo, bx, bhi, line_color="#0000ff", line_width=2)
    p.scatter(bx, bm, marker="circle", size=22, fill_color="#0000ff", line_color="black", line_width=1)
    return cr, ur


def lab(p, x, y, text, fs, rotated=False):
    """Place text whose baseline starts at screen (x, y) of the figure frame."""
    shift = BASE_SHIFT * fs
    if rotated:
        x, angle = x - shift, math.pi / 2
    else:
        y, angle = y + shift, 0.0
    p.add_layout(Label(x=x, y=y, x_units="screen", y_units="screen", text=text, angle=angle,
                       text_font=FONT, text_font_size=f"{fs}px", text_color="black",
                       text_align="left", text_baseline="alphabetic"))


p1 = make_panel((0.199, 1.39), 0.2, 4, 370, 133 - YSTRIP_W, 0, True, False)
p2 = make_panel((9.29, 11.99), 0.5, 5, 370, 0, 0, False, False)
p3 = make_panel((-0.15, 3.1), 0.5, 5, 368, 0, 50, False, True)

draw(p1, p1_dots, p1_circles, p1_ulirg, p1_bin_x, p1_bin_med, p1_bin_lo, p1_bin_hi, p1_fit_x, p1_fit_y)
draw(p2, p2_dots, p2_circles, p2_ulirg, p2_bin_x, p2_bin_med, p2_bin_lo, p2_bin_hi, p2_fit_x, p2_fit_y)
cr3, ur3 = draw(p3, p3_dots, p3_circles, p3_ulirg, p3_bin_x, p3_bin_med, p3_bin_lo, p3_bin_hi, p3_fit_x, p3_fit_y)

# y-axis title strip (rotated text, reads bottom to top); y given from the strip bottom
ys = make_strip(YSTRIP_W, PANEL_H)
lab(ys, 31, PANEL_H - 232, "A", 36, rotated=True)
lab(ys, 34, PANEL_H - 208, "2800", 27, rotated=True)

# x-axis titles strip; baselines measured from the strip bottom
xs = make_strip(1291, XSTRIP_H)
lab(xs, 222, 12, "(U\u2212B)", 33)
lab(xs, 309, 9, "restframe", 24)
lab(xs, 610, 12, "log M/M", 33)
lab(xs, 727, 9, "sun", 24)
lab(xs, 878, 12, "log SFR", 33)
lab(xs, 997, 9, "UV,corr", 24)
lab(xs, 1087, 12, "(M", 33)
lab(xs, 1127, 9, "sun", 24)
lab(xs, 1165, 12, "yr", 33)
lab(xs, 1193, 25, "\u22121", 22)
lab(xs, 1219, 12, ")", 33)

# legend
leg1 = Legend(items=[LegendItem(label="log M/M", renderers=[cr3])], location=(11, 319),
              glyph_width=32, glyph_height=32, label_height=32, label_standoff=12,
              padding=0, margin=0, spacing=0, border_line_color=None, background_fill_alpha=0,
              label_text_font=FONT, label_text_font_size="24px", label_text_color="black")
leg2 = Legend(items=[LegendItem(label="ULIRG", renderers=[ur3])], location=(18, 287),
              glyph_width=18, glyph_height=32, label_height=32, label_standoff=19,
              padding=0, margin=0, spacing=0, border_line_color=None, background_fill_alpha=0,
              label_text_font=FONT, label_text_font_size="24px", label_text_color="black")
p3.add_layout(leg1)
p3.add_layout(leg2)
lab(p3, 140, 323, "sun", 17)
lab(p3, 172, 327, "> 11.0", 24)

layout = column(row(ys, p1, p2, p3, spacing=0), xs, spacing=0)
open("out.html", "w").write(file_html(layout, INLINE))
